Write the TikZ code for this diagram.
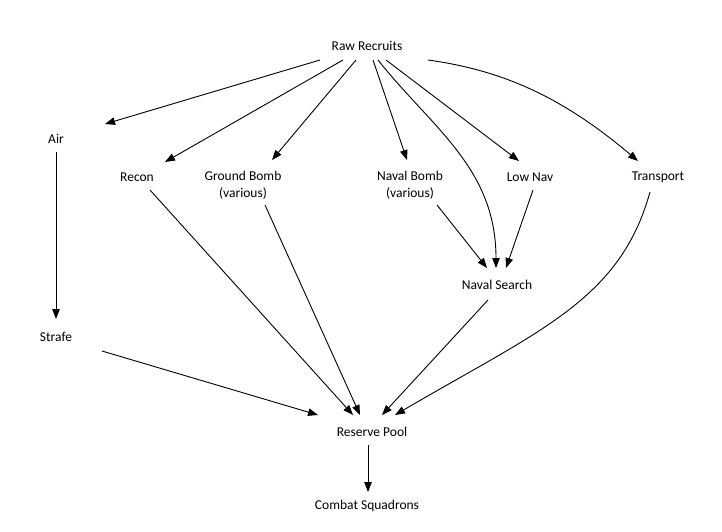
\documentclass[tikz,border=0pt]{standalone}
\usepackage{fontspec}
\setmainfont{Carlito}
\usetikzlibrary{arrows.meta}
\begin{document}
\begin{tikzpicture}[x=1pt,y=-1pt,
  lbl/.style={inner sep=0pt,align=center,font=\fontsize{13.5}{17}\selectfont},
  arr/.style={line width=0.9pt,-{Triangle[length=10pt,width=7.5pt]}}]
\useasboundingbox (0,0) rectangle (722,531);
\node[lbl] (rr) at (367,46) {Raw Recruits};
\node[lbl] (air) at (56,139) {Air};
\node[lbl] (recon) at (137,177) {Recon};
\node[lbl] (gb) at (243,185) {Ground Bomb\\(various)};
\node[lbl] (nb) at (410,185) {Naval Bomb\\(various)};
\node[lbl] (lownav) at (530,177) {Low Nav};
\node[lbl] (transport) at (658,177) {Transport};
\node[lbl] (ns) at (497,285) {Naval Search};
\node[lbl] (strafe) at (56,337) {Strafe};
\node[lbl] (pool) at (372,432) {Reserve Pool};
\node[lbl] (combat) at (367,506) {Combat Squadrons};
% from Raw Recruits
\draw[arr] ([shift={(-47,14)}]rr.center) -- ([shift={(49,-15)}]air.center);
\draw[arr] ([shift={(-24,14)}]rr.center) -- ([shift={(28,-15)}]recon.center);
\draw[arr] ([shift={(-11,14)}]rr.center) -- ([shift={(29,-25)}]gb.center);
\draw[arr] ([shift={(6,14)}]rr.center) -- ([shift={(-3,-25)}]nb.center);
\draw[arr] ([shift={(11,14)}]rr.center) .. controls (432,128) and (496,168) .. ([shift={(-1,-17)}]ns.center);
\draw[arr] ([shift={(19,14)}]rr.center) -- ([shift={(-11,-16)}]lownav.center);
\draw[arr] ([shift={(61,14)}]rr.center) .. controls (500,70) and (560,95) .. ([shift={(-20,-16)}]transport.center);
% others
\draw[arr] ([shift={(0,13)}]air.center) -- ([shift={(0,-18)}]strafe.center);
\draw[arr] ([shift={(13,13)}]recon.center) -- ([shift={(-19,-17)}]pool.center);
\draw[arr] ([shift={(22,20)}]gb.center) -- ([shift={(-12,-17)}]pool.center);
\draw[arr] ([shift={(27,20)}]nb.center) -- ([shift={(-10,-17)}]ns.center);
\draw[arr] ([shift={(3,13)}]lownav.center) -- ([shift={(9,-17)}]ns.center);
\draw[arr] ([shift={(-9,15)}]ns.center) -- ([shift={(10,-17)}]pool.center);
\draw[arr] ([shift={(-8,15)}]transport.center) .. controls (620,300) and (540,330) .. ([shift={(23,-17)}]pool.center);
\draw[arr] ([shift={(46,14)}]strafe.center) -- ([shift={(-54,-17)}]pool.center);
\draw[arr] ([shift={(-4,13)}]pool.center) -- ([shift={(1,-14)}]combat.center);
\end{tikzpicture}
\end{document}
